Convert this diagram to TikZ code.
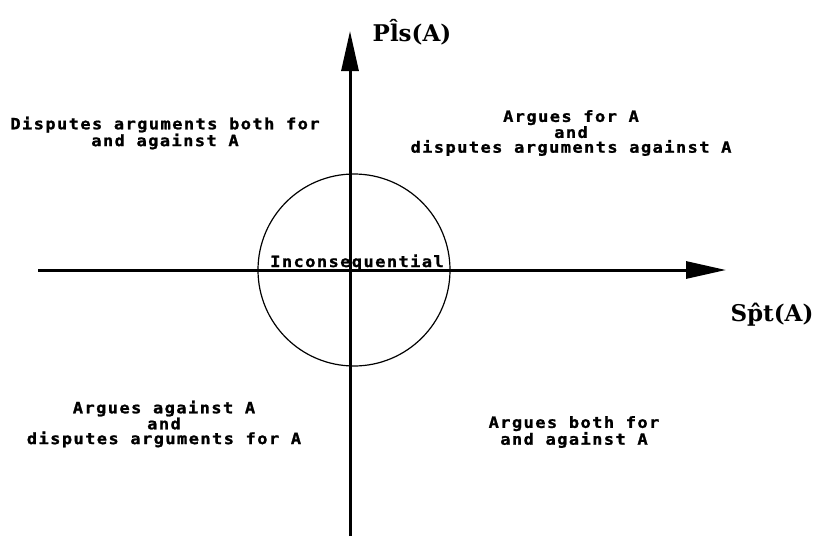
\documentclass[tikz,border=0pt]{standalone}
\usepackage{fontspec}
\usetikzlibrary{arrows.meta}
\newfontfamily\pixfont[FakeStretch=1.1,LetterSpace=9,FakeBold=1.2]{DejaVu Sans Mono Bold}
\newfontfamily\labfont{DejaVu Serif Bold}
\tikzset{
  axis/.style={line width=3pt,-{Triangle[length=40pt,width=17pt]}},
  quad/.style={font=\pixfont\fontsize{15.5pt}{14.8pt}\selectfont,align=center,inner sep=0pt},
  axlab/.style={font=\labfont\fontsize{23pt}{26pt}\selectfont,inner sep=0pt,anchor=base}
}
\begin{document}
\begin{tikzpicture}[x=1pt,y=-1pt]
\useasboundingbox (0,0) rectangle (819,538);
\coordinate (xs) at (38,270);
\coordinate (xe) at (726,270);
\coordinate (ys) at (350,536);
\coordinate (ye) at (350,31);
\coordinate (c) at (354,270);
\draw[line width=1.2pt] (c) circle[radius=96];
\draw[axis] (xs) -- (xe);
\draw[axis] (ys) -- (ye);
\node[axlab] (pls) at (412,41) {P\^{l}s(A)};
\node[axlab] (spt) at (772,321) {S\^{p}t(A)};
\node[quad,anchor=base] (inc) at (357,267) {Inconsequential};
\node[quad] (q2) at (165,133) {Disputes arguments both for\\and against A};
\node[quad] (q1) at (571,133) {Argues for A\\and\\disputes arguments against A};
\node[quad] (q3) at (164,424) {Argues against A\\and\\disputes arguments for A};
\node[quad] (q4) at (574,432) {Argues both for\\and against A};
\end{tikzpicture}
\end{document}
